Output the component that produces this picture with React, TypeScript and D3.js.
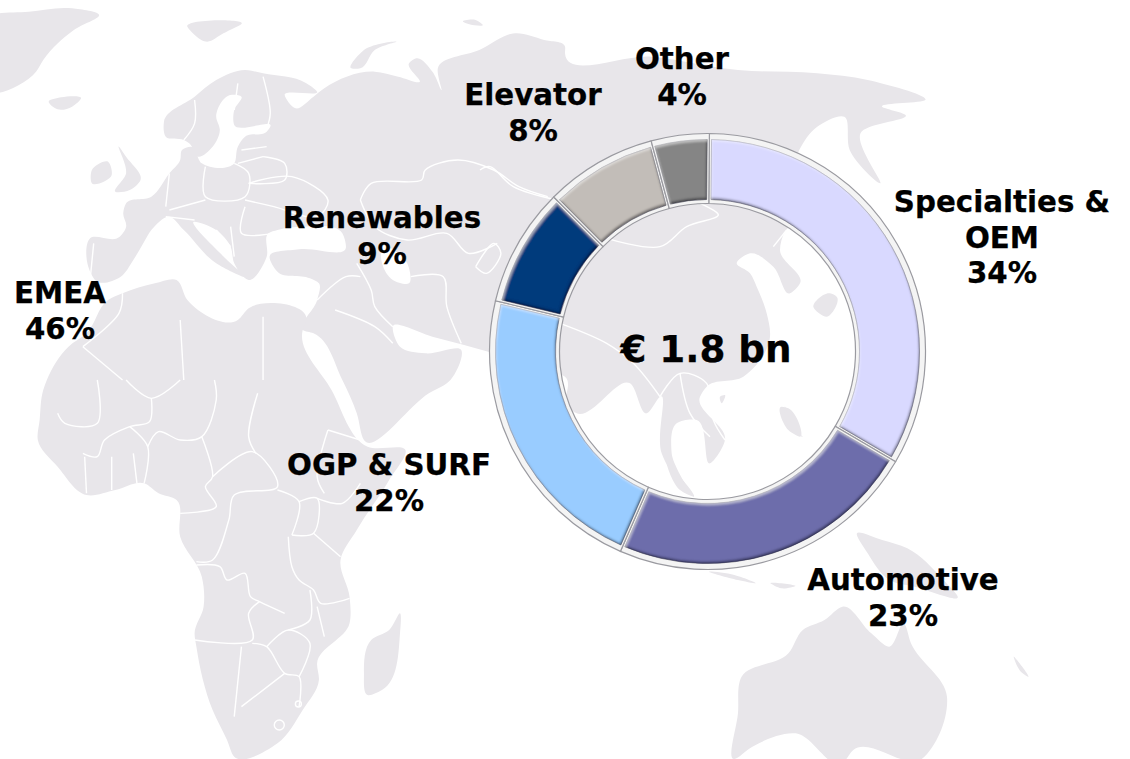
import React from "react";
import * as d3 from "d3";

// ---------- data ----------
const categories = ["Specialties & OEM", "Automotive", "OGP & SURF", "Renewables", "Elevator", "Other"];
// sizes of the ring's slices as measured on the picture (their printed labels are rounded)
const sliceShares = [33.3, 23.1, 22.2, 8.8, 8.3, 4.3];
const sliceColors = ["#d9d9ff", "#6d6dab", "#99ccff", "#063a7c", "#c2bdb8", "#858585"];
const totalLabel = "€ 1.8 bn";
const labelLines = [
  ["Specialties &", "OEM", "34%"],
  ["Automotive", "23%"],
  ["OGP & SURF", "22%"],
  ["Renewables", "9%"],
  ["Elevator", "8%"],
  ["Other", "4%"],
  ["EMEA", "46%"],
];
const labelCentres = [1002, 903, 389, 382, 533, 682, 60];
const labelBaselines = [212, 590, 475, 228, 105, 69, 303];

type Pt = [number, number];
const K = 1 / 2.775;
const z1 = (p: number[]): Pt => [480 + p[0] / 3, 120 + p[1] / 3];
const z2 = (p: number[]): Pt => [p[0] * K, p[1] / 3];
const z3 = (p: number[]): Pt => [p[0] * K, 380 + p[1] / 3];
const z4 = (p: number[]): Pt => [565 + p[0] * K, p[1] / 3];
const z5 = (p: number[]): Pt => [565 + p[0] * K, 380 + p[1] / 3];
const tr = (f: (p: number[]) => Pt, s: string): Pt[] =>
  s.trim().split(/\s+/).map((t) => f(t.split(",").map(Number)));
const closed = d3.line().curve(d3.curveCatmullRomClosed.alpha(1));
const open = d3.line().curve(d3.curveCatmullRom.alpha(0.5));

const eurasia: Pt[] = [
  ...tr(z2, "250,715 330,712 350,680 342,640 350,610 420,590 470,520 500,480 505,450 530,440 560,490 650,490 660,440 680,410 740,395 750,380 650,375 650,330 670,290 640,285 600,350 610,390 590,440 550,470 525,430 510,420 460,410 455,365 540,290 600,240 680,210 730,220 850,250 880,275 790,285 820,325 870,290 900,265 1040,215 1105,230 1165,245 1135,190 1155,175 1200,215 1225,270 1215,205 1330,150 1430,100 1510,120 1568,140"),
  ...tr(z4, "0,160 240,170 480,210 700,220 840,240 1000,300 880,320 945,345 820,400 875,550 790,450 775,350 700,380 650,450"),
  ...tr(z1, "950,300 915,335 900,390 960,490 930,520 880,440 810,400 770,430 810,460 830,500 860,580 870,650 790,770 680,800 660,830 735,960 690,1030 650,900 590,910 575,1000 620,1110 600,1090 545,1000 540,830 500,880 450,790 290,880 230,830 150,1000"),
  ...tr(z2, "1568,1130 1480,1100 1370,1060 1200,1010 1090,980 1110,1040 1180,1060 1280,1050"),
  ...tr(z3, "1250,0 1190,40 1010,180 990,100 950,0"),
  ...tr(z2, "870,1000 840,990 880,900 885,850 860,835 770,815 748,770 830,748 960,742 950,700 840,680 770,690 745,700 740,770 690,840 650,790 640,740 600,690 540,665 640,790 680,830 600,790 510,690 470,650 420,690 400,725 370,780 335,830 270,845 245,800"),
];
const africa: Pt[] = [
  ...tr(z2, "340,880 430,850 490,840 520,900 660,960 690,925 850,960 840,990"),
  ...tr(z3, "920,30 1020,200 1125,210 1080,300 990,450 945,540 970,650 970,730 880,850 885,900 840,990 770,1090 650,1130 630,1080 590,990 545,800 540,760 565,680 560,590 500,470 490,360 440,340 400,310 320,330 240,345 160,260 105,180 110,120 120,30 130,0"),
  ...tr(z2, "190,1040 240,1000 300,900"),
];
const australia = tr(z5, "470,1137 480,1000 490,890 620,820 660,750 720,720 770,680 850,760 900,800 940,730 960,790 1060,950 1040,1060 990,1137 800,1110 770,1150 640,1060 520,1100");
const islands: Pt[][] = [
  tr(z2, "-30,50 80,35 200,25 275,45 205,90 120,180 100,215 -30,280"),
  tr(z2, "135,305 170,292 225,295 200,320 160,328"),
  tr(z2, "330,440 350,470 390,540 360,570 320,575 350,520"),
  tr(z2, "255,510 300,485 310,525 255,550"),
  tr(z2, "520,80 670,72 620,100 575,125"),
  tr(z2, "975,205 1010,150 1100,125 1040,150 1000,205"),
  tr(z2, "1285,65 1320,60 1340,75 1300,72"),
  tr(z3, "1110,700 1110,760 1060,930 1020,945 1010,880 1030,780 1080,750"),
  tr(z5, "810,460 880,480 950,505 1050,600 1090,650 970,620 900,600 840,520"),
  tr(z5, "400,575 470,585 530,610 480,600"),
  tr(z5, "570,610 640,618 600,625"),
  tr(z1, "1000,560 1050,520 1070,530 1040,590"),
  tr(z1, "905,860 925,865 960,950 925,930"),
  tr(z1, "720,830 735,825 725,850"),
  tr(z1, "560,1030 640,1130 600,1110"),
  tr(z5, "610,80 640,150 660,170 620,140"),
  tr(z5, "1245,830 1285,890 1265,875"),
];
const waters: Pt[][] = [tr(z2, "1060,740 1130,790 1135,850 1090,840 1060,790")];
const borders: string[][] = [
  ["z2", "540,300 540,370 510,420"], ["z2", "660,250 650,330"], ["z2", "730,230 750,340 740,385"],
  ["z2", "670,450 740,440"], ["z2", "660,490 730,470"], ["z2", "570,500 570,590 680,590 690,520 650,490"],
  ["z2", "730,470 790,490 790,540 690,550"], ["z2", "690,550 810,530 910,600 880,650 760,620 680,600"],
  ["z2", "470,520 460,620"], ["z2", "470,630 570,600"], ["z2", "460,650 540,660"], ["z2", "680,620 670,700 760,700"],
  ["z2", "640,680 650,770"], ["z2", "600,690 640,740"], ["z2", "1000,600 1030,550 1170,540 1180,510 1270,480 1370,510 1440,560 1520,590"],
  ["z2", "1000,600 1040,680 1130,720 1240,700 1300,760 1380,730"], ["z2", "990,790 1030,870 1040,920 1090,980"],
  ["z2", "1140,830 1230,830 1240,920 1280,1030"], ["z2", "880,900 960,830 1000,830"], ["z2", "930,930 1040,980 1090,1030"],
  ["z2", "1320,800 1370,730 1390,760 1350,820 1320,800"], ["z2", "510,1140 500,960"], ["z2", "730,950 730,1140"],
  ["z2", "260,730 250,840"], ["z2", "230,1040 340,1140"], ["z2", "340,880 330,940 230,1040"],
  ["z1", "0,150 30,140 100,200 230,240"], ["z1", "380,355 540,380 620,320 715,285 660,250"],
  ["z1", "240,610 380,670 460,730 540,830"], ["z1", "540,830 600,760 680,790 700,900 735,960"], ["z1", "600,760 630,880 690,950"],
  ["z1", "880,380 920,330"],
  ["z3", "270,0 270,130 180,130 160,100"], ["z3", "350,0 420,55 500,0"], ["z3", "420,55 415,125 360,140 290,180 270,230 230,220"],
  ["z3", "360,140 410,200 400,310"], ["z3", "410,200 440,155 500,180 560,170 600,60 595,0"],
  ["z3", "560,170 590,290 570,320 600,380 500,400"], ["z3", "590,290 700,215 770,320 650,345 635,420 590,540 545,545"],
  ["z3", "715,40 690,170 710,220"], ["z3", "770,330 830,365 810,465"], ["z3", "830,365 880,355 870,460 810,465"],
  ["z3", "880,355 950,370 1000,310"], ["z3", "870,460 945,530"], ["z3", "910,150 880,290 900,340"], ["z3", "910,150 1000,180"],
  ["z3", "800,470 810,560 830,600 870,630 890,670 970,655"], ["z3", "545,555 610,560 630,600 680,580 695,650 720,665 790,700"],
  ["z3", "720,665 690,700 700,780 540,780"], ["z3", "670,800 650,1010"], ["z3", "700,790 740,800 790,880 830,890 830,980"],
  ["z3", "790,880 670,980"], ["z3", "740,800 800,750 860,790 830,890"], ["z3", "860,630 860,720 800,750"], ["z3", "880,680 900,770"],
  ["z3", "310,230 310,330"], ["z3", "370,220 380,310"], ["z3", "235,230 240,340"],
];
const zones: Record<string, (p: number[]) => Pt> = { z1, z2, z3, z4, z5 };

// ---------- donut ----------
const cx = 707.5;
const cy = 351.5;
const inner = 152;
const outer = 212;
const startDeg = 0.5;

export default function App() {
  const a0 = (startDeg * Math.PI) / 180;
  const pie = d3.pie<number>().sort(null).startAngle(a0).endAngle(2 * Math.PI + a0);
  const arcs = pie(sliceShares);
  const fill = d3.arc<d3.PieArcDatum<number>>().innerRadius(inner).outerRadius(outer).padRadius(180).padAngle(0.024);
  const frame = d3.arc<d3.PieArcDatum<number>>().innerRadius(inner - 4).outerRadius(outer + 6);
  const font = "'DejaVu Sans', Verdana, sans-serif";

  return (
    <svg width={1130} height={759} style={{ position: "absolute", left: 0, top: 0, background: "#fff" }}>
      <defs>
        <filter id="soft" x="-5%" y="-5%" width="110%" height="110%">
          <feGaussianBlur stdDeviation="0.6" />
        </filter>
        <filter id="bevel" x="-10%" y="-10%" width="120%" height="120%">
          <feGaussianBlur in="SourceAlpha" stdDeviation="1" result="b" />
          <feOffset in="b" dx="-1.5" dy="-2.2" result="o1" />
          <feComposite in="SourceAlpha" in2="o1" operator="out" result="m1" />
          <feFlood floodColor="#00001a" floodOpacity="0.7" />
          <feComposite in2="m1" operator="in" result="shadow" />
          <feOffset in="b" dx="0.6" dy="2.4" result="o2" />
          <feComposite in="SourceAlpha" in2="o2" operator="out" result="m2" />
          <feFlood floodColor="#ffffff" floodOpacity="0.4" />
          <feComposite in2="m2" operator="in" result="light" />
          <feMerge>
            <feMergeNode in="SourceGraphic" />
            <feMergeNode in="shadow" />
            <feMergeNode in="light" />
          </feMerge>
        </filter>
      </defs>

      <g filter="url(#soft)">
        <g fill="#e8e6ea">
          <path d={closed(eurasia) as string} />
          <path d={closed(africa) as string} />
          <path d={closed(australia) as string} />
          {islands.map((p, i) => (
            <path key={i} d={closed(p) as string} />
          ))}
          {waters.map((p, i) => (
            <path key={i} d={closed(p) as string} fill="#fff" />
          ))}
        </g>
        <g fill="none" stroke="#fff" strokeWidth={1.4}>
          {borders.map(([z, s], i) => (
            <path key={i} d={open(tr(zones[z], s)) as string} />
          ))}
          <circle cx={z3([775, 1035])[0]} cy={z3([775, 1035])[1]} r={5} />
          <circle cx={z3([828, 972])[0]} cy={z3([828, 972])[1]} r={3} />
        </g>
      </g>

      <g transform={`translate(${cx},${cy})`}>
        {arcs.map((a, i) => (
          <path key={i} d={frame(a) as string} fill="#f4f4f4" stroke="#9a9aa0" strokeWidth={1.2} />
        ))}
        {arcs.map((a, i) => (
          <path
            key={i}
            d={fill(a) as string}
            fill={sliceColors[i]}
            stroke="#30304a"
            strokeOpacity={0.35}
            strokeWidth={1}
            filter="url(#bevel)"
          />
        ))}
      </g>

      <g fontFamily={font} fontWeight={700} fontSize={29.3} textAnchor="middle" fill="#000" stroke="#000" strokeWidth={0.25}>
        {labelLines.map((lines, i) => (
          <text key={i} x={labelCentres[i]} y={labelBaselines[i]}>
            {lines.map((l, j) => (
              <tspan key={j} x={labelCentres[i]} dy={j === 0 ? 0 : 35.6}>
                {l}
              </tspan>
            ))}
          </text>
        ))}
        <text x={706} y={362} fontSize={37.3}>
          {totalLabel}
        </text>
      </g>
    </svg>
  );
}
